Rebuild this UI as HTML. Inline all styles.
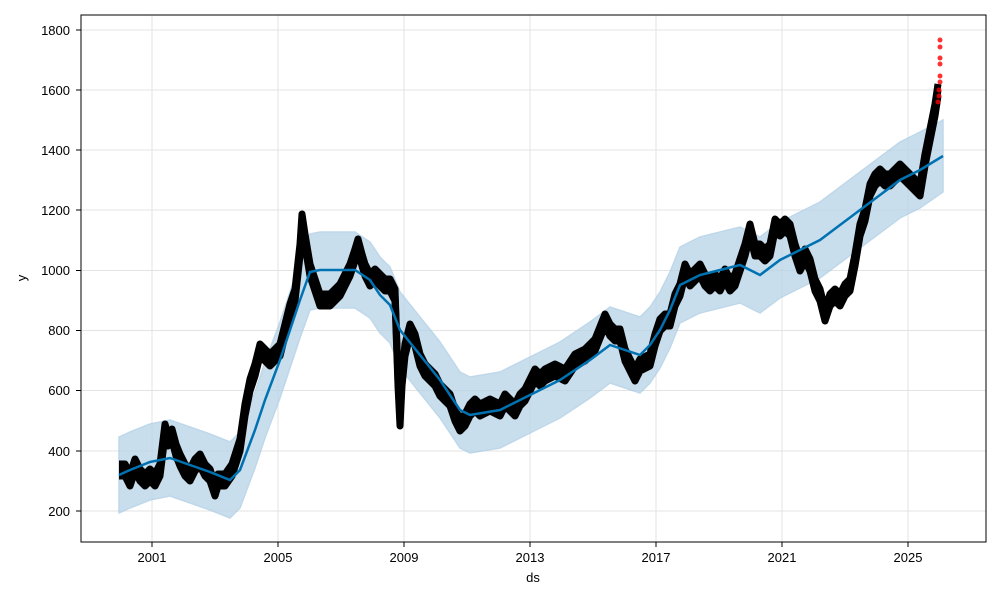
<!DOCTYPE html>
<html><head><style>body{margin:0;background:#fff}svg{display:block;font-family:"Liberation Sans","DejaVu Sans",sans-serif}</style></head>
<body>
<svg width="1000" height="600" xmlns="http://www.w3.org/2000/svg">
<defs>
<polyline id="d" fill="none" stroke="#000" stroke-width="7" stroke-linejoin="round" points="119,470 125,470 130,480 135,465 140,475 145,480 150,475 155,480 160,470 165,430 168,440 172,435 176,450 180,460 185,470 190,475 195,465 200,460 205,470 210,475 215,490 218,480 225,480 232,470 240,445 245,410 250,385 255,370 260,350 265,355 270,360 275,355 280,350 285,330 290,310 295,295 300,250 302,220 305,240 310,270 315,285 320,300 325,300 330,300 335,295 340,290 345,280 350,270 355,255 358,245 362,260 365,270 370,280 375,275 380,280 385,285 390,285 395,295 398,380 400,420 402,380 405,350 410,330 415,340 420,360 425,370 430,375 435,380 440,390 445,395 450,400 455,415 460,425 465,420 470,410 475,405 480,410 490,405 500,410 505,400 510,405 515,410 520,400 525,395 530,385 535,375 540,380 545,375 555,370 565,375 575,360 585,355 595,345 605,320 610,330 615,335 620,335 625,355 630,365 635,375 640,365 650,360 655,340 660,325 665,320 670,320 675,300 680,290 685,270 690,280 695,275 700,270 705,280 710,285 715,280 720,285 725,275 730,285 735,280 740,265 745,250 750,230 755,250 760,250 765,255 770,250 775,225 780,230 785,225 790,230 795,250 800,265 805,255 810,265 815,285 820,295 825,315 830,300 835,295 840,300 845,290 850,285 855,260 860,230 865,215 870,190 875,180 880,175 885,180 890,180 895,175 900,170 905,175 910,180 915,185 920,190 925,160 930,135 935,110 938,90"/>
</defs>
<g stroke="#e3e3e3" stroke-width="1">
<line x1="81" x2="986" y1="30" y2="30"/><line x1="81" x2="986" y1="90" y2="90"/><line x1="81" x2="986" y1="150" y2="150"/><line x1="81" x2="986" y1="210" y2="210"/><line x1="81" x2="986" y1="270.5" y2="270.5"/><line x1="81" x2="986" y1="330.5" y2="330.5"/><line x1="81" x2="986" y1="390.5" y2="390.5"/><line x1="81" x2="986" y1="451" y2="451"/><line x1="81" x2="986" y1="511" y2="511"/>
<line y1="15" y2="542" x1="152" x2="152"/><line y1="15" y2="542" x1="278" x2="278"/><line y1="15" y2="542" x1="404" x2="404"/><line y1="15" y2="542" x1="530" x2="530"/><line y1="15" y2="542" x1="656" x2="656"/><line y1="15" y2="542" x1="782" x2="782"/><line y1="15" y2="542" x1="908" x2="908"/>
</g>
<polygon fill="#b7d4e8" opacity="0.75" stroke="#a9cce3" stroke-width="1.5" points="119,437 130,432 150,424 170,420 190,427 210,434 230,442 240,432 255,392 265,362 280,322 290,292 300,262 310,234 320,232 340,232 355,232 370,242 380,257 390,267 400,292 420,317 440,342 460,372 470,377 500,372 530,357 560,342 590,322 610,307 625,312 640,317 650,307 660,292 670,272 680,247 700,237 720,232 740,227 760,237 780,222 800,212 820,202 840,187 860,172 880,157 900,142 920,132 943,120 943,192 920,208 900,218 880,233 860,248 840,263 820,278 800,288 780,298 760,313 740,303 720,308 700,313 680,323 670,348 660,368 650,383 640,393 625,388 610,383 590,398 560,418 530,433 500,448 470,453 460,448 440,418 420,393 400,368 390,343 380,333 370,318 355,308 340,308 320,308 310,310 300,338 290,368 280,398 265,438 255,468 240,508 230,518 210,510 190,503 170,496 150,500 130,508 119,513"/>
<use href="#d" transform="translate(0,-6)"/>
<use href="#d" transform="translate(0,6)"/>
<use href="#d"/>
<polyline fill="none" stroke="#0072b2" stroke-width="2.5" points="119,475 130,470 150,462 170,458 190,465 210,472 230,480 240,470 255,430 265,400 280,360 290,330 300,300 310,272 320,270 340,270 355,270 370,280 380,295 390,305 400,330 420,355 440,380 460,410 470,415 500,410 530,395 560,380 590,360 610,345 625,350 640,355 650,345 660,330 670,310 680,285 700,275 720,270 740,265 760,275 780,260 800,250 820,240 840,225 860,210 880,195 900,180 920,170 943,156"/>
<g fill="#f00" opacity="0.8"><circle cx="940" cy="40" r="2.5"/><circle cx="940" cy="47" r="2.5"/><circle cx="940" cy="58" r="2.5"/><circle cx="940" cy="64" r="2.5"/><circle cx="940" cy="76" r="2.5"/><circle cx="940" cy="82" r="2.5"/><circle cx="939" cy="90" r="2.5"/><circle cx="939" cy="96" r="2.5"/><circle cx="938" cy="102" r="2.5"/></g>
<rect x="81" y="15" width="905" height="527" fill="none" stroke="#000" stroke-width="1"/>
<g font-size="13" fill="#000" text-anchor="end">
<text x="70" y="35">1800</text><text x="70" y="95">1600</text><text x="70" y="155">1400</text><text x="70" y="215">1200</text><text x="70" y="275">1000</text><text x="70" y="335">800</text><text x="70" y="395">600</text><text x="70" y="456">400</text><text x="70" y="516">200</text>
</g>
<g stroke="#000"><line x1="76" x2="81" y1="30" y2="30"/><line x1="76" x2="81" y1="90" y2="90"/><line x1="76" x2="81" y1="150" y2="150"/><line x1="76" x2="81" y1="210" y2="210"/><line x1="76" x2="81" y1="270.5" y2="270.5"/><line x1="76" x2="81" y1="330.5" y2="330.5"/><line x1="76" x2="81" y1="390.5" y2="390.5"/><line x1="76" x2="81" y1="451" y2="451"/><line x1="76" x2="81" y1="511" y2="511"/>
<line y1="542" y2="547" x1="152" x2="152"/><line y1="542" y2="547" x1="278" x2="278"/><line y1="542" y2="547" x1="404" x2="404"/><line y1="542" y2="547" x1="530" x2="530"/><line y1="542" y2="547" x1="656" x2="656"/><line y1="542" y2="547" x1="782" x2="782"/><line y1="542" y2="547" x1="908" x2="908"/></g>
<g font-size="13" fill="#000" text-anchor="middle">
<text x="152" y="562">2001</text><text x="278" y="562">2005</text><text x="404" y="562">2009</text><text x="530" y="562">2013</text><text x="656" y="562">2017</text><text x="782" y="562">2021</text><text x="908" y="562">2025</text>
<text x="533" y="582">ds</text>
<text transform="translate(26,278) rotate(-90)">y</text>
</g>
</svg>
</body></html>
